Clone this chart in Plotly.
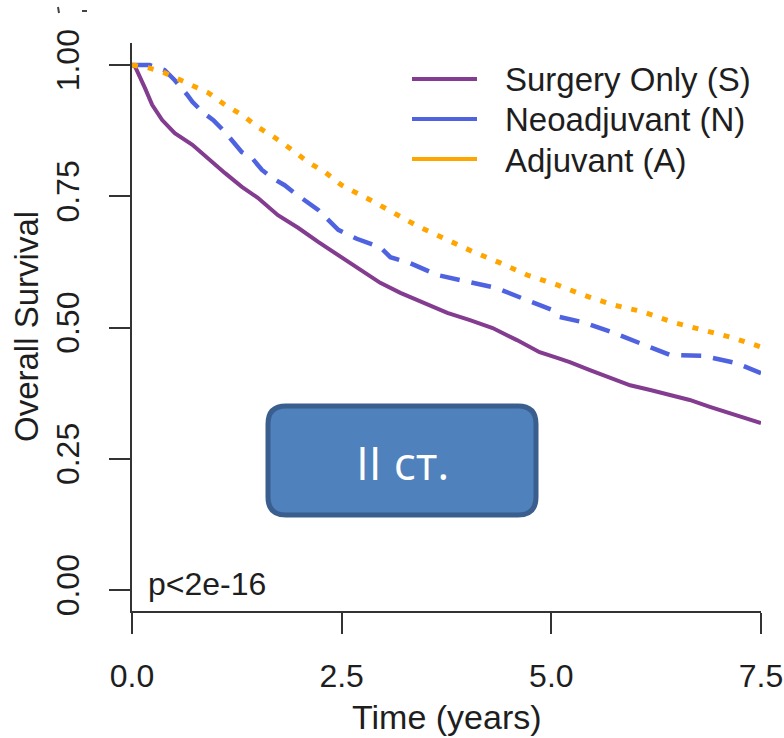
import plotly.graph_objects as go

# Kaplan-Meier overall survival estimates by treatment group (time in years)
surgery_t = [0.0, 0.04, 0.155, 0.24, 0.36, 0.51, 0.72, 0.95, 1.11, 1.31, 1.50, 1.74, 1.98,
             2.22, 2.46, 2.72, 2.96, 3.20, 3.47, 3.76, 4.03, 4.30, 4.59, 4.86, 5.07, 5.22,
             5.46, 5.70, 5.94, 6.18, 6.41, 6.65, 6.89, 7.13, 7.5]
surgery_s = [1.0, 0.996, 0.956, 0.924, 0.895, 0.870, 0.848, 0.815, 0.794, 0.768, 0.747, 0.714,
             0.690, 0.663, 0.638, 0.610, 0.585, 0.566, 0.547, 0.528, 0.514, 0.499, 0.476,
             0.453, 0.442, 0.434, 0.419, 0.404, 0.390, 0.381, 0.371, 0.362, 0.349, 0.337, 0.318]

neo_t = [0.0, 0.21, 0.39, 0.51, 0.66, 0.72, 0.85, 0.97, 1.11, 1.19, 1.31, 1.43, 1.55, 1.67,
         1.82, 1.94, 2.10, 2.22, 2.34, 2.46, 2.68, 2.96, 3.08, 3.31, 3.64, 3.99, 4.35, 4.71,
         5.02, 5.10, 5.38, 5.74, 6.06, 6.41, 6.81, 7.21, 7.5]
neo_s = [1.0, 1.0, 0.99, 0.971, 0.943, 0.93, 0.909, 0.895, 0.872, 0.857, 0.834, 0.823, 0.80,
         0.785, 0.771, 0.756, 0.737, 0.724, 0.705, 0.686, 0.669, 0.653, 0.634, 0.623, 0.60,
         0.587, 0.575, 0.552, 0.533, 0.52, 0.510, 0.490, 0.470, 0.448, 0.446, 0.432, 0.413]

adj_t = [0.0, 0.21, 0.39, 0.57, 0.75, 0.91, 1.11, 1.31, 1.50, 1.71, 1.91, 2.10, 2.30, 2.50,
         2.84, 3.11, 3.43, 3.76, 4.07, 4.39, 4.71, 5.07, 5.38, 5.74, 6.09, 6.45, 6.81, 7.17, 7.5]
adj_s = [1.0, 0.994, 0.985, 0.971, 0.958, 0.947, 0.924, 0.905, 0.882, 0.861, 0.838, 0.815,
         0.796, 0.771, 0.743, 0.718, 0.691, 0.667, 0.644, 0.623, 0.60, 0.581, 0.562, 0.543,
         0.530, 0.510, 0.495, 0.480, 0.463]

group_names = ["Surgery Only (S)", "Neoadjuvant (N)", "Adjuvant (A)"]
group_colors = ["#833C8F", "#4F63E0", "#FFA500"]

x_ticks = [0.0, 2.5, 5.0, 7.5]
x_tick_text = ["0.0", "2.5", "5.0", "7.5"]
y_ticks = [0.0, 0.25, 0.5, 0.75, 1.0]
y_tick_text = ["0.00", "0.25", "0.50", "0.75", "1.00"]

W, H = 784, 738
ML, MR, MT, MB = 132, 23, 43, 127
PW, PH = W - ML - MR, H - MT - MB


def fx(px):
    """Pixel column -> paper x."""
    return (px - ML) / PW


def fy(py):
    """Pixel row -> paper y."""
    return (H - MB - py) / PH


FONT = "Liberation Sans, Arial, sans-serif"
INK = "#1e1e1e"
AXIS = "#333333"

fig = go.Figure()
fig.add_trace(go.Scatter(x=surgery_t, y=surgery_s, mode="lines", name=group_names[0],
                         line=dict(color=group_colors[0], width=4), showlegend=False))
fig.add_trace(go.Scatter(x=neo_t, y=neo_s, mode="lines", name=group_names[1],
                         line=dict(color=group_colors[1], width=4.5, dash="20px,12px"),
                         showlegend=False))
fig.add_trace(go.Scatter(x=adj_t, y=adj_s, mode="lines", name=group_names[2],
                         line=dict(color=group_colors[2], width=5, dash="6px,10px"),
                         showlegend=False))

shapes = []
annotations = []

# legend: solid key lines with labels
for i, (name, col) in enumerate(zip(group_names, group_colors)):
    ly = 79 + 40 * i
    shapes.append(dict(type="line", xref="paper", yref="paper",
                       x0=fx(412), x1=fx(477), y0=fy(ly), y1=fy(ly),
                       line=dict(color=col, width=4)))
    annotations.append(dict(xref="paper", yref="paper", x=fx(503), y=fy(ly + 1),
                            xanchor="left", yanchor="middle", showarrow=False,
                            text=name, font=dict(family=FONT, size=33, color=INK)))

# stage label box with rounded corners
bx0, bx1, by0, by1, r = 268, 536, 406, 515, 18
path = (
    f"M {fx(bx0 + r)},{fy(by0)} L {fx(bx1 - r)},{fy(by0)} "
    f"Q {fx(bx1)},{fy(by0)} {fx(bx1)},{fy(by0 + r)} "
    f"L {fx(bx1)},{fy(by1 - r)} Q {fx(bx1)},{fy(by1)} {fx(bx1 - r)},{fy(by1)} "
    f"L {fx(bx0 + r)},{fy(by1)} Q {fx(bx0)},{fy(by1)} {fx(bx0)},{fy(by1 - r)} "
    f"L {fx(bx0)},{fy(by0 + r)} Q {fx(bx0)},{fy(by0)} {fx(bx0 + r)},{fy(by0)} Z"
)
shapes.append(dict(type="path", xref="paper", yref="paper", path=path,
                   fillcolor="#4F81BD", line=dict(color="#3A5F8E", width=5), layer="above"))
annotations.append(dict(xref="paper", yref="paper", x=fx(402), y=fy(462),
                        xanchor="center", yanchor="middle", showarrow=False,
                        text="II ст.", font=dict(family="Open Sans, sans-serif", size=46,
                                                 color="white")))

# clipped glyph fragments at the top edge
shapes.append(dict(type="line", xref="paper", yref="paper", x0=fx(58), x1=fx(59),
                   y0=fy(7), y1=fy(13), line=dict(color="#444", width=2)))
shapes.append(dict(type="line", xref="paper", yref="paper", x0=fx(82), x1=fx(87),
                   y0=fy(11), y1=fy(11), line=dict(color="#444", width=2)))

# p-value
annotations.append(dict(xref="paper", yref="paper", x=fx(146), y=fy(584),
                        xanchor="left", yanchor="middle", showarrow=False,
                        text="p<2e-16", font=dict(family=FONT, size=32, color=INK)))

# axis titles
annotations.append(dict(xref="paper", yref="paper", x=fx(447), y=fy(717),
                        xanchor="center", yanchor="middle", showarrow=False,
                        text="Time (years)", font=dict(family=FONT, size=34, color=INK)))
annotations.append(dict(xref="paper", yref="paper", x=fx(26), y=fy(327),
                        xanchor="center", yanchor="middle", showarrow=False, textangle=-90,
                        text="Overall Survival", font=dict(family=FONT, size=33, color=INK)))

fig.update_layout(
    template="none",
    width=W, height=H,
    margin=dict(l=ML, r=MR, t=MT, b=MB, pad=0),
    paper_bgcolor="white", plot_bgcolor="white",
    showlegend=False,
    shapes=shapes, annotations=annotations,
    xaxis=dict(range=[0, 7.5], tickvals=x_ticks, ticktext=x_tick_text, automargin=False,
               showgrid=False, zeroline=False, showline=True, linecolor=AXIS, linewidth=2,
               ticks="outside", ticklen=21, tickwidth=2, tickcolor=AXIS,
               tickfont=dict(family=FONT, size=32, color=INK), ticklabelstandoff=15),
    yaxis=dict(range=[-0.04, 1.0419], tickvals=y_ticks, ticktext=y_tick_text, automargin=False,
               showgrid=False, zeroline=False, showline=True, linecolor=AXIS, linewidth=2,
               ticks="outside", ticklen=21, tickwidth=2, tickcolor=AXIS, tickangle=-90,
               tickfont=dict(family=FONT, size=32, color=INK), ticklabelstandoff=17),
)

fig.write_html("out.html")
